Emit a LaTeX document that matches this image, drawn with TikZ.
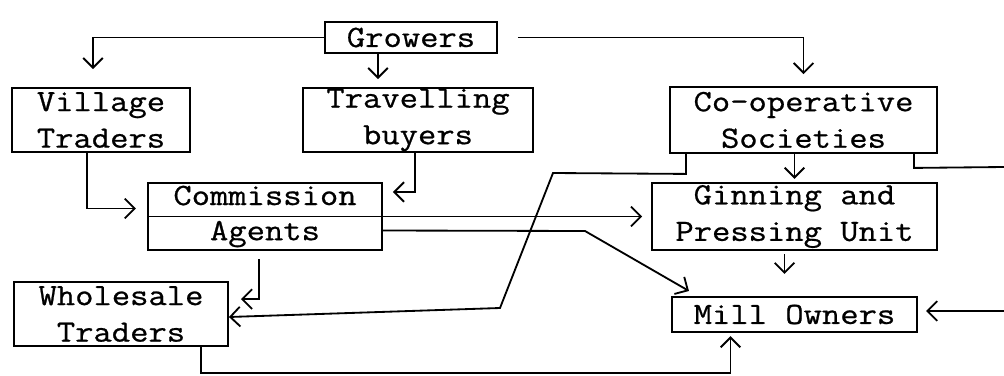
\documentclass[tikz,border=0pt]{standalone}
\usepackage{fontspec}
\newfontfamily\typer[FakeBold=0.7, FakeStretch=1.15]{Latin Modern Mono}
\usepackage{tikz}
\usetikzlibrary{arrows.meta,calc}

\begin{document}
\begin{tikzpicture}[x=0.025cm, y=-0.025cm, line width=1.3pt,
  every node/.style={font=\typer\fontsize{22}{26}\selectfont, align=center},
  box/.style={draw, inner sep=0pt},
  arr/.style={-{Straight Barb[length=7pt, width=14pt]}}]
  \useasboundingbox (0,0) rectangle (1004,375);
  \node[box, minimum width=4.3cm, minimum height=0.78cm] (gr) at (411,37.5) {Growers};
  \node[box, minimum width=4.45cm, minimum height=1.6cm] (vt) at (101,120) {Village\\Traders};
  \node[box, minimum width=5.75cm, minimum height=1.6cm] (tb) at (418,120) {Travelling\\buyers};
  \node[box, minimum width=6.68cm, minimum height=1.65cm] (co) at (803.5,120) {Co-operative\\Societies};
  \node[box, minimum width=5.85cm, minimum height=1.68cm] (ca) at (265,216.5) {Commission\\[-1pt]Agents};
  \node[box, minimum width=7.13cm, minimum height=1.68cm] (gi) at (794.5,216.5) {Ginning and\\Pressing Unit};
  \node[box, minimum width=6.13cm, minimum height=0.88cm] (mo) at (794.5,314.5) {Mill Owners};
  \node[box, minimum width=5.35cm, minimum height=1.6cm] (ws) at (121,314) {Wholesale\\Traders};
  \draw (ca.west) -- (ca.east);
  \coordinate (rt1) at (1004,167);
  \coordinate (rt2) at (1004,311);

  \draw[arr, shorten >=0.45cm] (gr.west) -| ($(vt.north)+(-8,0)$);
  \draw[arr] ($(gr.south)+(-33,0)$) -- ++(0,25);
  \draw[arr, shorten <=0.5cm, shorten >=0.3cm] (gr.east) -| (co.north);
  \draw[arr, shorten >=0.08cm] (gi.north |- co.south) -- (gi.north);
  \draw[arr] ($(co.south west)+(17,0)$) -- ++(0,20) -- (553,173) -- (500,308) -- ($(ws.east)+(0,3)$);
  \draw ($(co.south east)+(-24,0)$) -- ++(0,14) -- (rt1);
  \draw[arr, shorten >=0.2cm] (rt2) -- (mo.east |- rt2);
  \draw[arr, shorten >=0.55cm] ($(gi.south)+(-10,3)$) -- ($(mo.north)+(-10,0)$);
  \draw[arr, shorten >=0.28cm] ($(vt.south)+(-14,0)$) |- ($(ca.west)+(0,-8)$);
  \draw[arr, shorten >=0.25cm] ($(tb.south)+(-3,0)$) |- ($(ca.north east)+(0,10)$);
  \draw[arr, shorten >=0.22cm] (ca.east) -- (gi.west);
  \draw[arr] ($(ca.east)+(0,14)$) -- (585,231) -- ($(mo.north west)+(18,-5)$);
  \draw[arr, shorten <=0.2cm, shorten >=0.3cm] ($(ca.south)+(-6,0)$) |- ($(ws.north east)+(0,18)$);
  \draw[arr, shorten >=0.08cm] ($(ws.south east)+(-28,0)$) -- ++(0,26) -| ($(mo.south)+(-64,0)$);
\end{tikzpicture}
\end{document}
